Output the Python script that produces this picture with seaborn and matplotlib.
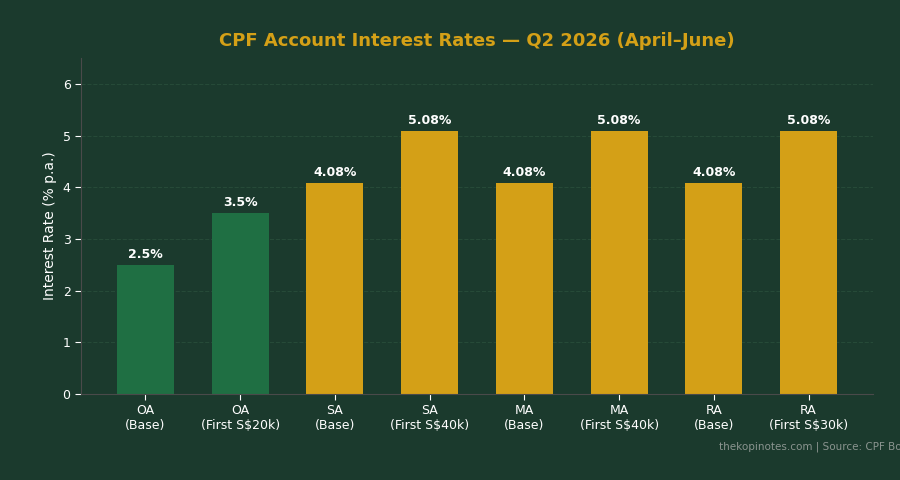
import matplotlib
matplotlib.use("Agg")
import matplotlib.pyplot as plt
import seaborn as sns
import pandas as pd

# chart data
accounts = ["OA\n(Base)", "OA\n(First S$20k)", "SA\n(Base)", "SA\n(First S$40k)",
            "MA\n(Base)", "MA\n(First S$40k)", "RA\n(Base)", "RA\n(First S$30k)"]
rates = [2.5, 3.5, 4.08, 5.08, 4.08, 5.08, 4.08, 5.08]
value_labels = ["2.5%", "3.5%", "4.08%", "5.08%", "4.08%", "5.08%", "4.08%", "5.08%"]
groups = ["OA", "OA", "Other", "Other", "Other", "Other", "Other", "Other"]

bg = "#1b3a2d"
green = "#1f6f43"
gold = "#d4a017"

data = pd.DataFrame({"account": accounts, "rate": rates, "group": groups})

sns.set_style("dark")
plt.rcParams['font.family'] = ['DejaVu Sans']

fig = plt.figure(figsize=(9, 4.8), dpi=100, facecolor=bg)
ax = fig.add_axes([0.09, 0.179, 0.88, 0.70])
ax.set_facecolor(bg)

sns.barplot(data=data, x="account", y="rate", hue="group",
            palette={"OA": green, "Other": gold}, width=0.6,
            dodge=False, legend=False, saturation=1, linewidth=0, ax=ax)

for i, (r, lab) in enumerate(zip(rates, value_labels)):
    ax.text(i, r + 0.08, lab, ha="center", va="bottom", color="white",
            fontsize=9, fontweight="bold")

ax.set_xlim(-0.68, 7.68)
ax.set_ylim(0, 6.5)
ax.set_yticks([0, 1, 2, 3, 4, 5, 6])
ax.set_xlabel("")
ax.set_ylabel("Interest Rate (% p.a.)", color="white", fontsize=10)
ax.set_title("CPF Account Interest Rates \u2014 Q2 2026 (April\u2013June)",
             color=gold, fontsize=13, fontweight="bold", pad=9)

ax.tick_params(colors="white", labelsize=9, length=4, bottom=True, left=True)
ax.grid(axis="y", color="#264a38", linestyle="--", linewidth=0.8)
ax.set_axisbelow(True)
for side in ["top", "right"]:
    ax.spines[side].set_visible(False)
for side in ["left", "bottom"]:
    ax.spines[side].set_visible(True)
    ax.spines[side].set_color("#4a4a4a")

fig.text(0.799, 0.069, "thekopinotes.com | Source: CPF Board", color="#8a948f",
         fontsize=7.5, ha="left", va="center")

fig.savefig("out.png", dpi=100, facecolor=bg)
